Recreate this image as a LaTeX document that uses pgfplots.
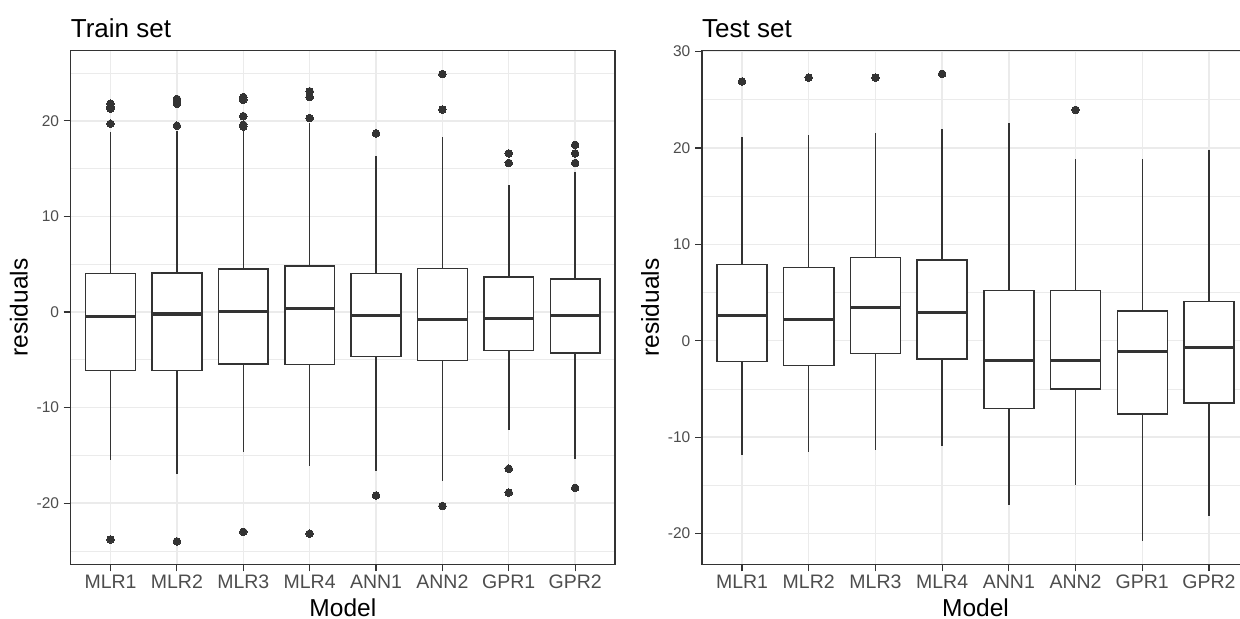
\documentclass[border=0pt]{standalone}
\usepackage{fontspec}
\setmainfont{Liberation Sans}
\usepackage{pgfplots}
\pgfplotsset{compat=1.18}
\usepgfplotslibrary{statistics}

\definecolor{gg20}{HTML}{333333}
\definecolor{gg30}{HTML}{4D4D4D}
\definecolor{gggrid}{HTML}{EBEBEB}

\pgfplotsset{
  ggpanel/.style={
    scale only axis,width=544.3bp,height=513.6bp,
    xmin=0.4,xmax=8.6,xtick={1,...,8},
    xticklabels={MLR1,MLR2,MLR3,MLR4,ANN1,ANN2,GPR1,GPR2},
    xtick pos=bottom,ytick pos=left,
    axis line style={gg20,line width=1.1bp},
    tick align=outside,major tick style={gg20,line width=1.1bp},major tick length=7bp,
    minor tick length=0pt,
    xmajorgrids,ymajorgrids,yminorgrids,
    major grid style={gggrid,line width=1.4bp},
    minor grid style={gggrid,line width=0.8bp},
    /pgf/number format/assume math mode=true,
    xticklabel style={font=\fontsize{19.5bp}{20bp}\selectfont,text=gg30,anchor=base,inner sep=0pt,yshift=-17bp},
    yticklabel style={font=\fontsize{15.5bp}{16bp}\selectfont,text=gg30,anchor=east,inner sep=0pt,xshift=-4.5bp},
    xlabel={Model},ylabel={residuals},
    label style={font=\fontsize{24.5bp}{26bp}\selectfont,text=black},
    xlabel style={at={(axis description cs:0.5,0)},anchor=base,yshift=-51.7bp,inner sep=0pt},
    ylabel style={at={(axis description cs:-0.095,0.5)},anchor=center,inner sep=0pt},
    title style={at={(axis description cs:0,1)},anchor=base west,yshift=7bp,inner sep=0pt,
                 font=\fontsize{26bp}{28bp}\selectfont,text=black},
  },
  ggbx/.style={
    draw=gg20,line width=1.5bp,fill=white,
    mark=*,mark size=3.8bp,mark options={draw=gg20,fill=gg20,line width=0pt},
    boxplot/draw direction=y,
    boxplot/box extend=0.75,boxplot/whisker extend=0,
    boxplot/every median/.style={line width=3.3bp},
  },
}

% #1 position, #2 median, #3 lower quartile, #4 upper quartile, #5 lower whisker, #6 upper whisker, #7 outliers
\newcommand{\bx}[7]{\addplot[ggbx,boxplot prepared={draw position=#1,median=#2,
  lower quartile=#3,upper quartile=#4,lower whisker=#5,upper whisker=#6}] coordinates {#7};}

\begin{document}
\begin{tikzpicture}
\begin{axis}[ggpanel,at={(70.7bp,54.7bp)},anchor=south west,
  title={Train set},
  ymin=-26.4,ymax=27.35,ytick={-20,-10,0,10,20},minor ytick={-25,-15,-5,5,15,25}]
\bx{1}{-0.49}{-6.13}{4.03}{-15.5}{18.8}{(0,21.8)(0,21.5)(0,21.3)(0,19.7)(0,-23.8)}
\bx{2}{-0.2}{-6.13}{4.07}{-17.0}{18.9}{(0,22.3)(0,22.0)(0,21.8)(0,19.5)(0,-24.0)}
\bx{3}{0.05}{-5.44}{4.52}{-14.6}{19.0}{(0,22.5)(0,22.2)(0,20.5)(0,19.6)(0,19.4)(0,-23.0)}
\bx{4}{0.34}{-5.5}{4.84}{-16.1}{19.8}{(0,23.1)(0,22.5)(0,20.3)(0,-23.2)}
\bx{5}{-0.39}{-4.67}{4.03}{-16.6}{16.3}{(0,18.7)(0,-19.2)}
\bx{6}{-0.8}{-5.09}{4.56}{-17.7}{18.3}{(0,24.9)(0,21.2)(0,-20.3)}
\bx{7}{-0.7}{-4.01}{3.69}{-12.3}{13.3}{(0,16.6)(0,15.6)(0,-16.4)(0,-18.9)}
\bx{8}{-0.35}{-4.28}{3.45}{-15.4}{14.7}{(0,17.5)(0,16.6)(0,15.6)(0,-18.4)}
\end{axis}
\begin{axis}[ggpanel,at={(702bp,54.7bp)},anchor=south west,width=547bp,
  title={Test set},
  ymin=-23.2,ymax=30.1,ytick={-20,-10,0,10,20,30},minor ytick={-15,-5,5,15,25}]
\bx{1}{2.64}{-2.14}{7.89}{-11.84}{21.15}{(0,26.9)}
\bx{2}{2.18}{-2.56}{7.62}{-11.5}{21.4}{(0,27.3)}
\bx{3}{3.47}{-1.31}{8.66}{-11.3}{21.6}{(0,27.3)}
\bx{4}{2.95}{-1.9}{8.38}{-10.9}{22.0}{(0,27.7)}
\bx{5}{-2.04}{-7.02}{5.19}{-17.06}{22.6}{}
\bx{6}{-2.04}{-5.02}{5.19}{-15.0}{18.9}{(0,23.96)}
\bx{7}{-1.1}{-7.58}{3.08}{-20.8}{18.9}{}
\bx{8}{-0.69}{-6.44}{4.05}{-18.2}{19.8}{}
\end{axis}
\pgfresetboundingbox
\path[use as bounding box] (0bp,0bp) rectangle (1240bp,619bp);
\end{tikzpicture}
\end{document}
